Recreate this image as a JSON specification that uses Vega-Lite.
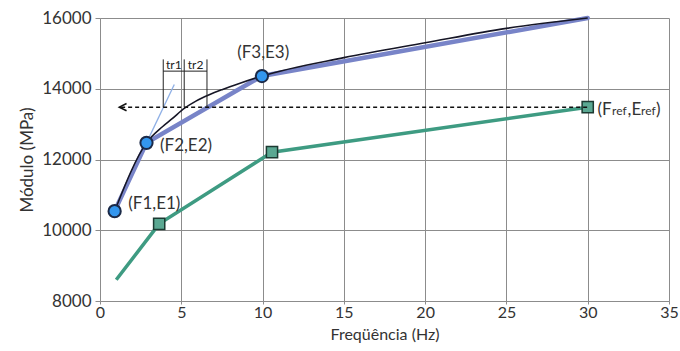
{
  "$schema": "https://vega.github.io/schema/vega-lite/v6.json",
  "width": 569,
  "height": 283,
  "autosize": "none",
  "padding": {"left": 100, "top": 18, "right": 11, "bottom": 50},
  "background": "white",
  "config": {
    "view": {"stroke": null},
    "font": "Lato",
    "axis": {
      "gridColor": "#8c8c8c",
      "gridWidth": 1,
      "gridOpacity": 1,
      "domainColor": "#8c8c8c",
      "tickColor": "#8c8c8c",
      "tickSize": 5,
      "labelFlush": false,
      "labelFont": "Lato",
      "labelFontSize": 17,
      "labelColor": "#333333",
      "titleFont": "Lato",
      "titleFontSize": 17,
      "titleFontWeight": "normal",
      "titleColor": "#333333"
    }
  },
  "datasets": {
    "blue": [
      {"f": 0.9, "e": 10540},
      {"f": 2.86, "e": 12470},
      {"f": 9.96, "e": 14360},
      {"f": 30, "e": 16000}
    ],
    "tangent": [
      {"f": 2.86, "e": 12470},
      {"f": 4.57, "e": 14120}
    ],
    "black": [
      {"f": 0.9, "e": 10540},
      {"f": 2.86, "e": 12470},
      {"f": 3.84, "e": 12925},
      {"f": 4.46, "e": 13160},
      {"f": 5.18, "e": 13443},
      {"f": 5.9, "e": 13650},
      {"f": 6.72, "e": 13830},
      {"f": 7.54, "e": 13980},
      {"f": 8.57, "e": 14150},
      {"f": 9.96, "e": 14360},
      {"f": 15, "e": 14880},
      {"f": 20, "e": 15300},
      {"f": 25, "e": 15706},
      {"f": 30, "e": 16000}
    ],
    "green": [
      {"f": 1.0, "e": 8600, "m": false},
      {"f": 3.64, "e": 10180, "m": true},
      {"f": 10.58, "e": 12206, "m": true},
      {"f": 30, "e": 13480, "m": true}
    ],
    "circles": [
      {"f": 0.9, "e": 10540},
      {"f": 2.86, "e": 12470},
      {"f": 9.96, "e": 14360}
    ],
    "dashed": [
      {"f": 1.3, "e": 13480},
      {"f": 30, "e": 13480}
    ],
    "arrow": [
      {"f": 1.19, "e": 13480}
    ],
    "vlines": [
      {"f": 3.89, "e1": 13480, "e2": 14830},
      {"f": 5.18, "e1": 13480, "e2": 14830},
      {"f": 6.58, "e1": 13480, "e2": 14830}
    ],
    "hline": [
      {"f1": 3.89, "f2": 6.58, "e": 14498}
    ],
    "trlabels": [
      {"f": 4.54, "e": 14659, "t": "tr1"},
      {"f": 5.88, "e": 14659, "t": "tr2"}
    ],
    "ptlabelsleft": [
      {"f": 1.74, "e": 10740, "t": "(F1,E1)"},
      {"f": 3.69, "e": 12382, "t": "(F2,E2)"}
    ],
    "ptlabelscenter": [
      {"f": 10.04, "e": 15018, "t": "(F3,E3)"}
    ],
    "refbig": [
      {"f": 30.6, "e": 13250, "t": "(F"},
      {"f": 32.45, "e": 13250, "t": ",E"},
      {"f": 34.2, "e": 13250, "t": ")"}
    ],
    "refsmall": [
      {"f": 31.5, "e": 13250, "t": "ref"},
      {"f": 33.28, "e": 13250, "t": "ref"}
    ]
  },
  "encoding": {
    "x": {"field": "f", "type": "quantitative"},
    "y": {"field": "e", "type": "quantitative"}
  },
  "layer": [
    {
      "data": {"name": "blue"},
      "mark": {"type": "line", "color": "#7884c8", "strokeWidth": 4.5, "strokeCap": "round"},
      "encoding": {
        "x": {"field": "f", "type": "quantitative", "scale": {"domain": [0, 35], "nice": false}, "axis": {"values": [0, 5, 10, 15, 20, 25, 30, 35], "title": "Freqüência (Hz)", "tickSize": 3, "labelFontSize": 16, "titleFontSize": 16, "labelPadding": 0, "titlePadding": 6}},
        "y": {"field": "e", "type": "quantitative", "scale": {"domain": [8000, 16000], "nice": false, "zero": false}, "axis": {"values": [8000, 10000, 12000, 14000, 16000], "format": "d", "title": "Módulo (MPa)", "labelPadding": 4, "titlePadding": 5}}
      }
    },
    {
      "data": {"name": "tangent"},
      "mark": {"type": "line", "color": "#8fb0e6", "strokeWidth": 1.3}
    },
    {
      "data": {"name": "black"},
      "mark": {"type": "line", "color": "#161626", "strokeWidth": 1.6, "interpolate": "monotone"}
    },
    {
      "data": {"name": "green"},
      "mark": {"type": "line", "color": "#3e9b82", "strokeWidth": 3.5}
    },
    {
      "data": {"name": "green"},
      "transform": [{"filter": "datum.m"}],
      "mark": {"type": "square", "filled": true, "fill": "#5aa892", "stroke": "#1c3a32", "strokeWidth": 1.5, "size": 125, "opacity": 1}
    },
    {
      "data": {"name": "dashed"},
      "mark": {"type": "line", "color": "#111111", "strokeWidth": 1.5, "strokeDash": [4, 3]}
    },
    {
      "data": {"name": "arrow"},
      "mark": {"type": "point", "shape": "M 1.8 -0.9 L 0 0 L 1.8 0.9", "filled": false, "stroke": "#111111", "strokeWidth": 1.6, "size": 64, "opacity": 1}
    },
    {
      "data": {"name": "vlines"},
      "mark": {"type": "rule", "color": "#222222", "strokeWidth": 1},
      "encoding": {
        "x": {"field": "f", "type": "quantitative"},
        "y": {"field": "e1", "type": "quantitative"},
        "y2": {"field": "e2"}
      }
    },
    {
      "data": {"name": "hline"},
      "mark": {"type": "rule", "color": "#222222", "strokeWidth": 1},
      "encoding": {
        "x": {"field": "f1", "type": "quantitative"},
        "x2": {"field": "f2"},
        "y": {"field": "e", "type": "quantitative"}
      }
    },
    {
      "data": {"name": "circles"},
      "mark": {"type": "circle", "fill": "#3396ee", "stroke": "#1b2a48", "strokeWidth": 2, "size": 150, "opacity": 1}
    },
    {
      "data": {"name": "trlabels"},
      "mark": {"type": "text", "fontSize": 12, "color": "#222222", "align": "center", "baseline": "middle", "font": "Lato"},
      "encoding": {"text": {"field": "t"}}
    },
    {
      "data": {"name": "ptlabelsleft"},
      "mark": {"type": "text", "fontSize": 17, "color": "#333333", "align": "left", "baseline": "middle", "font": "Lato"},
      "encoding": {"text": {"field": "t"}}
    },
    {
      "data": {"name": "ptlabelscenter"},
      "mark": {"type": "text", "fontSize": 17, "color": "#333333", "align": "center", "baseline": "middle", "font": "Lato"},
      "encoding": {"text": {"field": "t"}}
    },
    {
      "data": {"name": "refbig"},
      "mark": {"type": "text", "fontSize": 17, "color": "#333333", "align": "left", "baseline": "alphabetic", "font": "Lato"},
      "encoding": {"text": {"field": "t"}}
    },
    {
      "data": {"name": "refsmall"},
      "mark": {"type": "text", "fontSize": 12, "color": "#333333", "align": "left", "baseline": "alphabetic", "font": "Lato"},
      "encoding": {"text": {"field": "t"}}
    }
  ]
}
